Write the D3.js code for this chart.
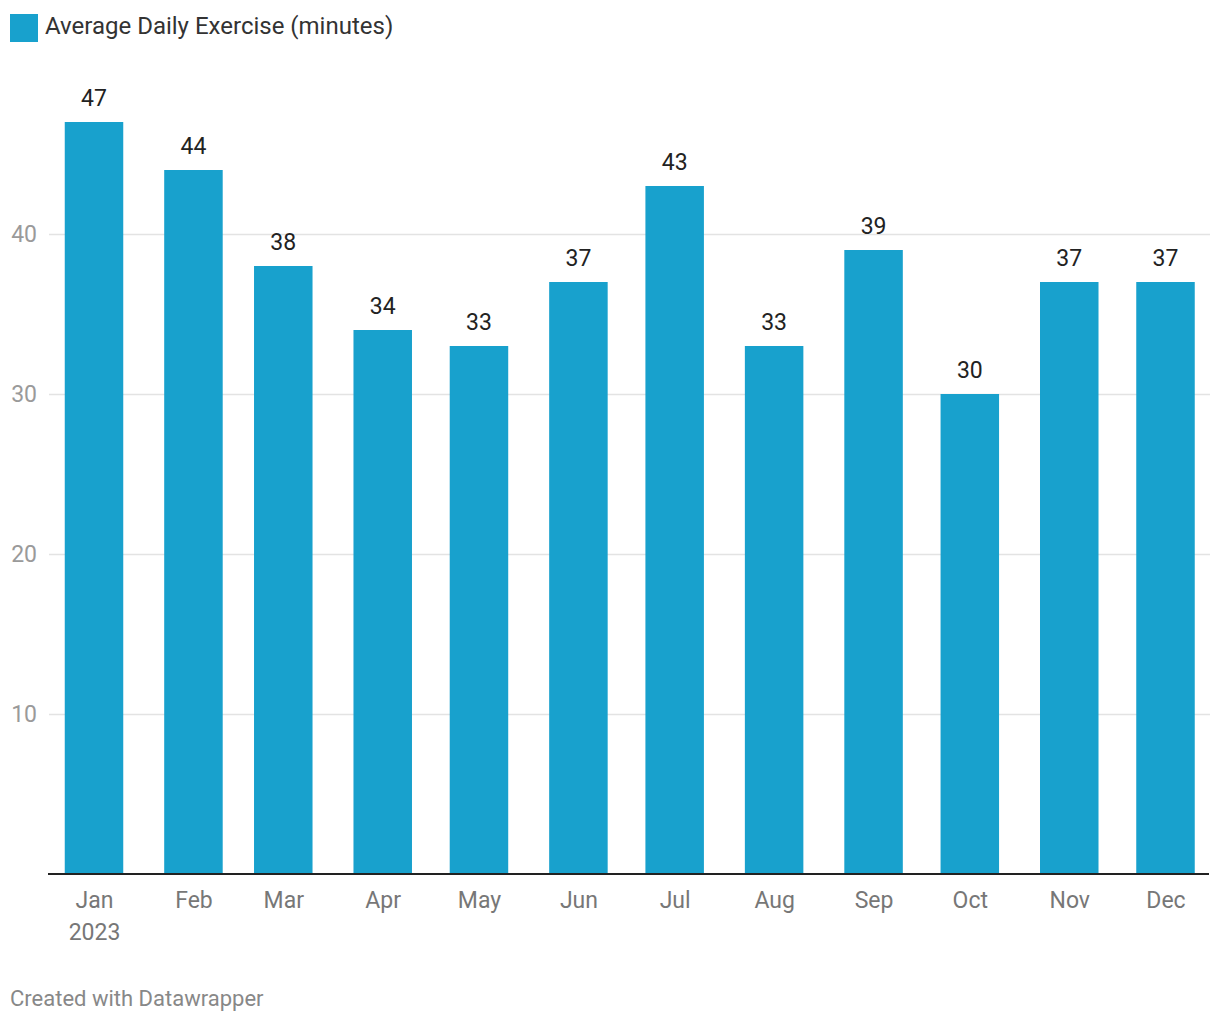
<!DOCTYPE html>
<html>
<head>
<meta charset="utf-8">
<script src="https://cdn.jsdelivr.net/npm/d3@7"></script>
<style>
  body { margin: 0; background: #fff; }
  text { font-family: Roboto, "Noto Sans", sans-serif; }
</style>
</head>
<body>
<div id="chart"></div>
<script>
// data
var months = ["2023-01-01","2023-02-01","2023-03-01","2023-04-01","2023-05-01","2023-06-01",
              "2023-07-01","2023-08-01","2023-09-01","2023-10-01","2023-11-01","2023-12-01"];
var monthLabels = ["Jan","Feb","Mar","Apr","May","Jun","Jul","Aug","Sep","Oct","Nov","Dec"];
var exercise = [47, 44, 38, 34, 33, 37, 43, 33, 39, 30, 37, 37];
var yTicks = [10, 20, 30, 40];

var w = 1220, h = 1020;
var barColor = "#18a1cd";

var svg = d3.select("#chart").append("svg")
  .attr("width", w)
  .attr("height", h);

var parse = d3.utcParse("%Y-%m-%d");
var dates = months.map(parse);

// scales
var x = d3.scaleUtc()
  .domain([dates[0], dates[dates.length - 1]])
  .range([94, 1165.5]);

var y = d3.scaleLinear()
  .domain([0, 40])
  .range([874, 234]);

var barW = 58.5;

// legend
svg.append("rect")
  .attr("x", 10).attr("y", 14)
  .attr("width", 28).attr("height", 28)
  .attr("fill", barColor);
svg.append("text")
  .attr("x", 45).attr("y", 34)
  .attr("fill", "#333")
  .style("font-size", "24px")
  .text("Average Daily Exercise (minutes)");

// grid
var yAxis = d3.axisLeft(y)
  .tickValues(yTicks)
  .tickSize(-(1210 - 49))
  .tickPadding(12);

var gy = svg.append("g")
  .attr("transform", "translate(49,0)")
  .call(yAxis);
gy.select(".domain").remove();
gy.selectAll(".tick line").attr("stroke", "#e3e3e3").attr("stroke-width", 1.5);
gy.selectAll(".tick text")
  .attr("fill", "#9a9a9a")
  .attr("x", -12)
  .style("font-size", "23px")
  .style("font-family", "Roboto, sans-serif");

// bars
svg.selectAll(".bar")
  .data(exercise)
  .enter().append("rect")
  .attr("class", "bar")
  .attr("x", function(d, i) { return x(dates[i]) - barW / 2; })
  .attr("y", function(d) { return y(d); })
  .attr("width", barW)
  .attr("height", function(d) { return y(0) - y(d); })
  .attr("fill", barColor);

// value labels
svg.selectAll(".val")
  .data(exercise)
  .enter().append("text")
  .attr("class", "val")
  .attr("x", function(d, i) { return x(dates[i]); })
  .attr("y", function(d) { return y(d) - 16; })
  .attr("text-anchor", "middle")
  .attr("fill", "#222")
  .style("font-size", "23px")
  .text(function(d) { return d; });

// x axis
var xAxis = d3.axisBottom(x)
  .tickValues(dates)
  .tickSize(0)
  .tickFormat(function(d, i) { return monthLabels[i]; });

var gx = svg.append("g")
  .attr("transform", "translate(0," + y(0) + ")")
  .call(xAxis);
gx.select(".domain").remove();
gx.selectAll(".tick text")
  .attr("fill", "#777")
  .attr("y", 34)
  .attr("dy", 0)
  .style("font-size", "23px")
  .style("font-family", "Roboto, sans-serif");
gx.select(".tick text")
  .append("tspan")
  .attr("x", 0)
  .attr("dy", 32)
  .text("2023");

svg.append("line")
  .attr("x1", 48).attr("x2", 1209)
  .attr("y1", y(0)).attr("y2", y(0))
  .attr("stroke", "#222")
  .attr("stroke-width", 2);

// footer
svg.append("text")
  .attr("x", 10).attr("y", 1006)
  .attr("fill", "#888")
  .style("font-size", "22px")
  .text("Created with Datawrapper");
</script>
</body>
</html>
